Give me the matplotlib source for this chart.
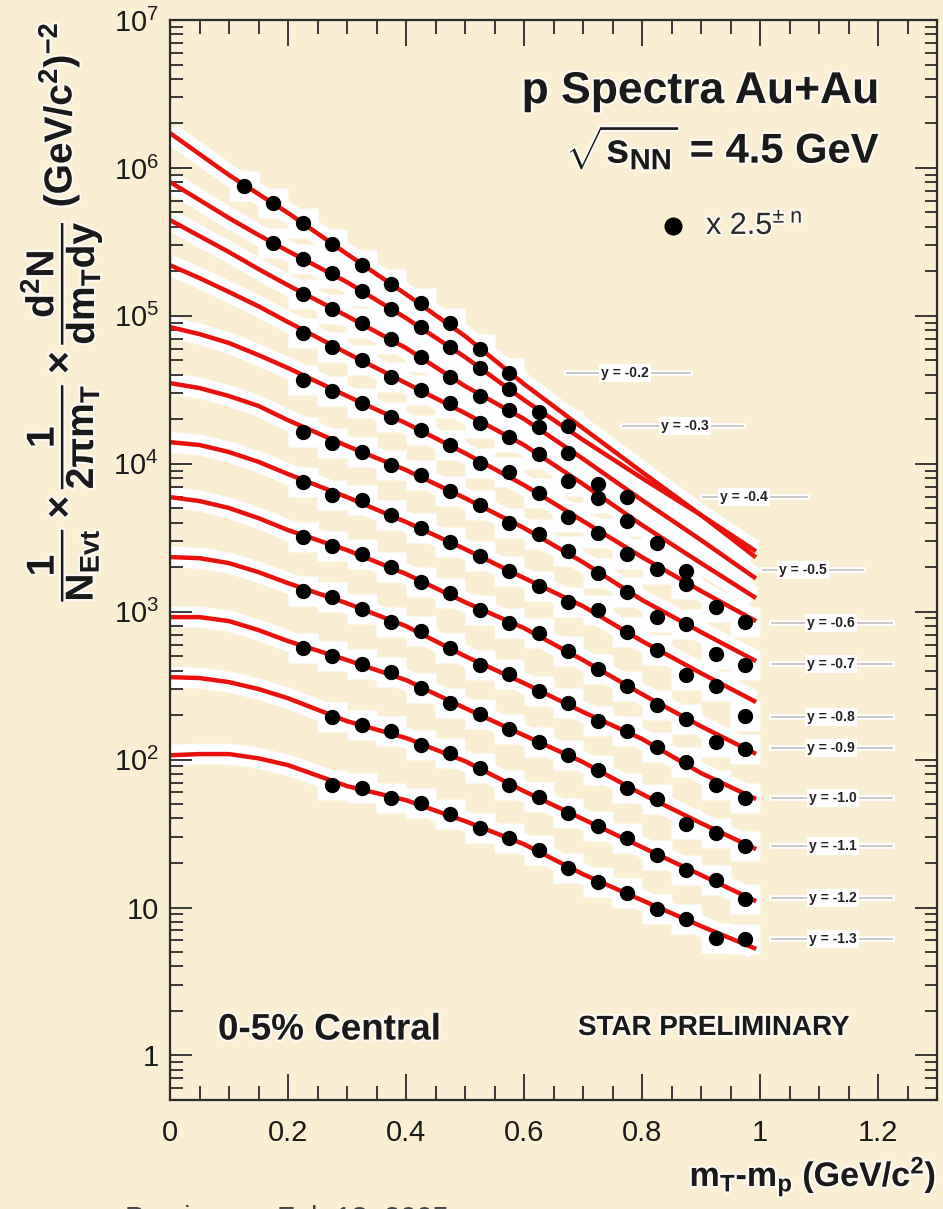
import matplotlib
matplotlib.use("Agg")
import matplotlib.pyplot as plt
import numpy as np
from matplotlib.lines import Line2D
from matplotlib.ticker import FixedLocator, LogLocator, NullFormatter, FixedFormatter
import matplotlib.patheffects as pe

plt.rcParams['font.family'] = ['Liberation Sans', 'DejaVu Sans']
plt.rcParams['mathtext.fontset'] = 'custom'
plt.rcParams['mathtext.rm'] = 'Liberation Sans'
plt.rcParams['mathtext.it'] = 'Liberation Sans:italic'
plt.rcParams['mathtext.bf'] = 'Liberation Sans:bold'

# ---------------- data ----------------
rapidity_labels = ['y = -0.2', 'y = -0.3', 'y = -0.4', 'y = -0.5', 'y = -0.6', 'y = -0.7',
                   'y = -0.8', 'y = -0.9', 'y = -1.0', 'y = -1.1', 'y = -1.2', 'y = -1.3']

# m_T - m_p bin centres of the measured points
mt_bins = [0.125, 0.175, 0.225, 0.275, 0.325, 0.375, 0.425, 0.475, 0.525,
           0.575, 0.625, 0.675, 0.725, 0.775, 0.825, 0.875, 0.925, 0.975]

# first bin index of each rapidity slice
first_bin = [0, 1, 2, 2, 2, 2, 2, 2, 2, 2, 3, 3]

pts_m02 = [7.58e5, 5.76e5, 4.24e5, 3.07e5, 2.21e5, 1.63e5, 1.23e5, 8.90e4, 5.99e4, 4.09e4]
pts_m03 = [3.09e5, 2.41e5, 1.94e5, 1.48e5, 1.11e5, 8.44e4, 6.18e4, 4.42e4, 3.19e4, 2.23e4, 1.80e4]
pts_m04 = [1.40e5, 1.11e5, 8.98e4, 6.94e4, 5.24e4, 3.88e4, 2.87e4, 2.31e4, 1.76e4, 1.19e4,
           7.26e3, 5.98e3]
pts_m05 = [7.71e4, 6.18e4, 5.03e4, 3.88e4, 3.15e4, 2.56e4, 1.89e4, 1.52e4, 1.16e4, 7.68e3,
           5.84e3, 4.10e3, 2.92e3, 1.89e3]
pts_m06 = [3.68e4, 3.12e4, 2.56e4, 2.08e4, 1.68e4, 1.33e4, 1.02e4, 8.79e3, 6.37e3, 4.38e3,
           3.42e3, 2.44e3, 1.94e3, 1.55e3, 1.08e3, 8.47e2]
pts_m07 = [1.65e4, 1.39e4, 1.20e4, 9.80e3, 8.45e3, 6.52e3, 5.26e3, 3.99e3, 3.33e3, 2.57e3,
           1.83e3, 1.35e3, 9.24e2, 8.24e2, 5.17e2, 4.36e2]
pts_m08 = [7.56e3, 6.14e3, 5.71e3, 4.48e3, 3.66e3, 2.95e3, 2.38e3, 1.89e3, 1.50e3, 1.17e3,
           1.03e3, 7.31e2, 5.50e2, 3.73e2, 3.16e2, 1.97e2]
pts_m09 = [3.22e3, 2.78e3, 2.45e3, 2.01e3, 1.58e3, 1.33e3, 1.03e3, 8.41e2, 7.13e2, 5.44e2,
           4.09e2, 3.16e2, 2.34e2, 1.88e2, 1.32e2, 1.18e2]
pts_m10 = [1.38e3, 1.26e3, 1.05e3, 8.54e2, 7.43e2, 5.65e2, 4.39e2, 3.77e2, 2.92e2, 2.42e2,
           1.83e2, 1.57e2, 1.22e2, 96.6, 67.2, 54.7]
pts_m11 = [5.65e2, 5.01e2, 4.42e2, 3.89e2, 3.03e2, 2.42e2, 2.03e2, 1.62e2, 1.32e2, 1.08e2,
           84.9, 63.9, 53.8, 36.6, 32.0, 26.1]
pts_m12 = [1.94e2, 1.71e2, 1.57e2, 1.25e2, 1.10e2, 87.2, 67.2, 55.5, 43.7, 35.5,
           29.3, 22.6, 17.9, 15.3, 11.5]
pts_m13 = [67.2, 63.9, 55.2, 50.6, 42.8, 34.3, 29.3, 24.4, 18.4, 14.9,
           12.6, 9.71, 8.35, 6.24, 6.12]

# fit curves sampled along m_T - m_p
x_fit = [0.0, 0.05, 0.10, 0.15, 0.20, 0.30, 0.40, 0.50, 0.60, 0.70, 0.80, 0.90, 0.99]
fit_m02 = [1.72e6, 1.24e6, 8.95e5, 6.66e5, 4.96e5, 2.62e5, 1.40e5, 7.30e4, 3.46e4, 1.74e4, 8.79e3, 4.50e3, 2.38e3]
fit_m03 = [8.03e5, 6.07e5, 4.58e5, 3.52e5, 2.74e5, 1.69e5, 9.66e4, 5.27e4, 2.70e4, 1.45e4, 8.00e3, 4.50e3, 2.61e3]
fit_m04 = [4.44e5, 3.46e5, 2.70e5, 2.07e5, 1.61e5, 9.97e4, 6.06e4, 3.35e4, 2.01e4, 1.08e4, 5.68e3, 3.05e3, 1.71e3]
fit_m05 = [2.20e5, 1.80e5, 1.45e5, 1.16e5, 9.08e4, 5.60e4, 3.51e4, 2.20e4, 1.34e4, 7.29e3, 3.85e3, 2.13e3, 1.26e3]
fit_m06 = [8.40e4, 7.53e4, 6.55e4, 5.43e4, 4.44e4, 2.87e4, 1.88e4, 1.18e4, 7.18e3, 4.10e3, 2.34e3, 1.38e3, 8.77e2]
fit_m07 = [3.51e4, 3.25e4, 2.87e4, 2.46e4, 1.97e4, 1.32e4, 9.07e3, 5.86e3, 3.68e3, 2.16e3, 1.20e3, 7.28e2, 4.71e2]
fit_m08 = [1.40e4, 1.34e4, 1.20e4, 1.03e4, 8.52e3, 5.95e3, 4.04e3, 2.65e3, 1.69e3, 1.09e3, 6.33e2, 3.84e2, 2.49e2]
fit_m09 = [5.95e3, 5.60e3, 5.02e3, 4.29e3, 3.56e3, 2.61e3, 1.80e3, 1.16e3, 7.75e2, 4.71e2, 2.77e2, 1.68e2, 1.11e2]
fit_m10 = [2.34e3, 2.30e3, 2.13e3, 1.85e3, 1.56e3, 1.14e3, 7.99e2, 5.01e2, 3.29e2, 2.10e2, 1.38e2, 81.1, 54.9]
fit_m11 = [9.19e2, 9.19e2, 8.64e2, 7.51e2, 6.33e2, 4.71e2, 3.45e2, 2.23e2, 1.46e2, 96.2, 58.5, 37.2, 25.2]
fit_m12 = [3.61e2, 3.56e2, 3.34e2, 3.00e2, 2.60e2, 1.82e2, 1.40e2, 97.7, 61.2, 39.6, 25.6, 16.6, 11.2]
fit_m13 = [1.07e2, 1.09e2, 1.09e2, 1.02e2, 91.8, 66.2, 53.2, 38.4, 26.8, 16.8, 11.2, 7.49, 5.32]

points = [pts_m02, pts_m03, pts_m04, pts_m05, pts_m06, pts_m07,
          pts_m08, pts_m09, pts_m10, pts_m11, pts_m12, pts_m13]
fits = [fit_m02, fit_m03, fit_m04, fit_m05, fit_m06, fit_m07,
        fit_m08, fit_m09, fit_m10, fit_m11, fit_m12, fit_m13]

x_ticks = [0, 0.2, 0.4, 0.6, 0.8, 1.0, 1.2]
x_tick_labels = ['0', '0.2', '0.4', '0.6', '0.8', '1', '1.2']
y_ticks = [1, 10, 1e2, 1e3, 1e4, 1e5, 1e6, 1e7]
y_tick_labels = ['1', '10', r'$\mathregular{10^{2}}$', r'$\mathregular{10^{3}}$',
                 r'$\mathregular{10^{4}}$', r'$\mathregular{10^{5}}$',
                 r'$\mathregular{10^{6}}$', r'$\mathregular{10^{7}}$']

# ---------------- figure ----------------
W, H = 943, 1209
PAPER = '#FAEFD2'
WHITE = '#FDFEFF'
RED = '#E8110C'
INK = '#1a1a1a'

fig = plt.figure(figsize=(W / 100, H / 100), dpi=100, facecolor=PAPER)


def fx(px):
    return px / W


def fy(py):
    return 1 - py / H


ax = fig.add_axes([fx(170), fy(1100), fx(937) - fx(170), fy(20) - fy(1100)])
ax.set_facecolor('none')
ax.set_yscale('log')
ax.set_xlim(0, 1.3)
ax.set_ylim(0.5, 1e7)

# white backing around curves and points
for xs0, ys, fit in zip(first_bin, points, fits):
    xs = mt_bins[xs0:xs0 + len(ys)]
    ax.plot(x_fit, fit, color=WHITE, lw=15, solid_capstyle='butt', zorder=1)
    ax.plot(xs, ys, 's', color=WHITE, ms=22, mec='none', zorder=1)

# fit curves and data
for xs0, ys, fit in zip(first_bin, points, fits):
    xs = mt_bins[xs0:xs0 + len(ys)]
    ax.plot(x_fit, fit, color=RED, lw=3.2, solid_joinstyle='round', zorder=3)
    ax.plot(xs, ys, 'o', color='black', ms=10, mec='black', zorder=4)

# axes style (ticks on all sides, pointing inwards)
for sp in ax.spines.values():
    sp.set_linewidth(1.6)
    sp.set_color('#2a2a2a')
    sp.set_zorder(5)

ax.xaxis.set_major_locator(FixedLocator(x_ticks))
ax.xaxis.set_major_formatter(FixedFormatter(x_tick_labels))
ax.xaxis.set_minor_locator(FixedLocator(np.arange(0.05, 1.3, 0.05)))
ax.yaxis.set_major_locator(FixedLocator(y_ticks))
ax.yaxis.set_major_formatter(FixedFormatter(y_tick_labels))
ax.yaxis.set_minor_locator(LogLocator(base=10, subs=np.arange(2, 10) * 1.0, numticks=50))
ax.yaxis.set_minor_formatter(NullFormatter())

ax.tick_params(axis='both', which='both', direction='in', top=True, right=True,
               color='#2a2a2a', width=1.3)
ax.tick_params(axis='x', which='major', length=19, labelsize=21, pad=14, labelcolor=INK)
ax.tick_params(axis='x', which='minor', length=10)
ax.tick_params(axis='y', which='major', length=16, labelsize=21, pad=8, labelcolor=INK)
ax.tick_params(axis='y', which='minor', length=9)

halo = [pe.withStroke(linewidth=3, foreground='white', alpha=0.75)]

# titles
fig.text(fx(880), fy(103), 'p Spectra Au+Au', ha='right', va='baseline',
         fontsize=32, fontweight='bold', color=INK, path_effects=halo)
fig.text(fx(880), fy(163), r'$\mathbf{\sqrt{s_{NN}}}$ = 4.5 GeV', ha='right', va='baseline',
         fontsize=30, fontweight='bold', color=INK, path_effects=halo)

# legend entry
fig.add_artist(Line2D([fx(673)], [fy(226)], marker='o', ms=12, color='black',
                      transform=fig.transFigure))
fig.text(fx(706), fy(226), r'x 2.5$^{\pm\ \mathregular{n}}$', ha='left', va='center',
         fontsize=22, color='#2a2a2a', path_effects=halo)

fig.text(fx(218), fy(1030), '0-5% Central', ha='left', va='center',
         fontsize=26.5, fontweight='bold', color=INK, path_effects=halo)
fig.text(fx(578), fy(1028), 'STAR PRELIMINARY', ha='left', va='center',
         fontsize=20, fontweight='bold', color=INK, path_effects=halo)

# rapidity tags
tag_pos = [(625, 373, 567, 690), (685, 426, 623, 743), (744, 497, 703, 807),
           (803, 570, 763, 863), (831, 623, 772, 892), (831, 664, 772, 892),
           (831, 717, 772, 892), (831, 748, 772, 892), (833, 798, 772, 892),
           (833, 846, 772, 892), (833, 898, 772, 892), (833, 939, 772, 892)]
for lab, (cx, cy, x0, x1) in zip(rapidity_labels, tag_pos):
    fig.add_artist(Line2D([fx(x0), fx(x1)], [fy(cy), fy(cy)], color='white', lw=4,
                          transform=fig.transFigure))
    fig.add_artist(Line2D([fx(x0), fx(x1)], [fy(cy), fy(cy)], color='#bdbdbd', lw=1.2,
                          transform=fig.transFigure))
    fig.text(fx(cx), fy(cy), lab, ha='center', va='center', fontsize=10,
             fontweight='bold', color='#222222',
             bbox=dict(boxstyle='square,pad=0.15', fc='white', ec='none'))

# axis titles
fig.text(fx(936), fy(1186), r'$\mathbf{m_{T}}$-$\mathbf{m_{p}}$ (GeV/c$^{\mathbf{2}}$)',
         ha='right', va='baseline', fontsize=24.5, fontweight='bold', color=INK,
         path_effects=halo)
fig.text(fx(60), fy(312),
         r'$\mathbf{\dfrac{1}{N_{Evt}}\times\dfrac{1}{2\pi m_{T}}\times\dfrac{d^{2}N}{dm_{T}dy}}$'
         r' (GeV/c$^{\mathbf{2}}$)$^{\mathbf{-2}}$',
         rotation=90, ha='center', va='center', fontsize=28, fontweight='bold', color=INK,
         path_effects=halo)

# footer line, running off the lower page edge
fig.text(fx(125), fy(1227), 'Preview', ha='left', va='baseline', fontsize=21, color='#444444')
fig.text(fx(277), fy(1227), 'Feb 18, 2005', ha='left', va='baseline', fontsize=21, color='#444444')

fig.savefig('out.png', dpi=100, facecolor=PAPER)
